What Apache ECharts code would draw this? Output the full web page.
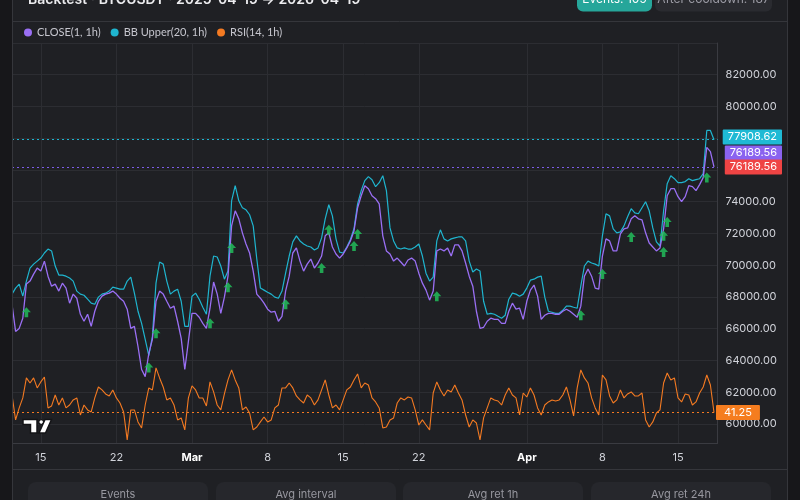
<!DOCTYPE html>
<html><head><meta charset="utf-8">
<script src="https://cdn.jsdelivr.net/npm/echarts@6/dist/echarts.min.js"></script>
<style>html,body{margin:0;padding:0;background:#17171a;}#c{width:800px;height:500px;}</style>
</head><body><div id="c"></div>
<script>
// ---- data (8-hour samples, starting 2026-02-12 08:00 UTC) ----
const startUTC = [2026, 1, 12, 8];
const stepHours = 8;

const closeValues = [
67540,65830,66020,66660,68810,69000,69440,69820,69630,70260,
69310,68680,68810,68370,68870,68560,67610,68180,67920,66910,
66470,66910,66150,67100,67730,68050,68180,68240,68370,68180,
67920,67730,67230,66020,66150,64880,63430,62980,64440,65330,
67730,68370,68180,67730,67290,67420,66470,65390,63430,65200,
66970,66970,66720,66340,66020,67290,68940,68180,66970,67990,
69310,72480,73430,72920,72040,71340,70770,69630,68180,67920,
67610,67230,67040,67100,66470,66780,68370,69310,70770,71090,
70260,69630,70070,70390,69820,70140,70580,71850,72040,71150,
70710,70450,70710,71090,71530,72160,73620,74380,75010,74820,
74380,74190,73870,71850,70900,70710,70260,70450,70200,69950,
70330,70450,70260,69500,68870,68430,67800,68370,70900,71020,
70900,71090,70580,71280,71280,70900,70140,69310,68680,67100,
66020,66090,66470,66660,66590,66590,66340,66340,67100,67610,
67230,67290,66590,67730,68430,68750,68050,66590,66850,66970,
66970,66910,66910,67100,67230,67100,66910,66720,67420,69310,
69760,69310,68560,68490,70580,71660,71530,70900,70900,71970,
72290,72350,72920,73110,72920,72860,72040,71400,71150,70900,
71090,72290,74380,74820,74820,74320,74000,74320,75010,74950,
74700,75080,75520,77420,77160,76189.56
];

const bbUpperValues = [
68180,68560,68810,68050,69000,69820,70070,70260,70450,70770,
71020,70900,69950,69380,69380,69310,69190,69000,68370,68180,
68110,67860,67610,67540,67990,68180,68240,68370,68620,68560,
68490,68490,69000,69250,68240,67100,66340,65330,64310,65520,
68870,70200,70070,69000,68180,68370,68490,67730,66150,66150,
68050,68240,67860,67350,66910,69310,70580,70520,69950,69120,
69630,74060,75010,74060,73620,73490,73180,72480,70390,68560,
68430,68300,68180,67990,67920,68370,69500,70580,71470,71850,
71530,71340,71210,71150,70960,71090,71720,72920,73810,73110,
71660,70830,70770,71150,71620,72300,73870,74700,75330,75580,
75390,74950,75200,75640,74700,72350,71530,71090,71020,71090,
71020,71020,71150,71340,70580,69500,69000,69250,71530,72230,
71660,71530,71660,71720,71780,71780,71530,70260,69570,69760,
69630,67730,66910,66970,66910,66780,66660,66850,67860,68240,
68180,68050,68180,68560,69060,69120,69250,69310,67990,67100,
67040,66970,66970,67160,67420,67420,67350,67290,68680,69950,
70260,70140,70070,69950,71850,73240,73110,72290,72040,72100,
72480,73050,73560,73300,73240,73620,74000,73430,72350,71470,
71210,73430,75140,75640,75450,75200,75200,75270,75450,75330,
75390,75450,75770,78490,78490,77908.62
];

const rsiValues = [
54.4,35.7,44.7,52.2,67.2,63.4,67.2,59.7,64.2,67.9,
44.7,46.2,54.4,46.9,52.2,44.7,46.9,50.7,52.2,39.4,
46.9,43.2,41.7,52.2,60.4,58.2,55.2,53.7,58.2,52.2,
48.4,41.7,20.7,43.2,43.2,34.2,29.7,46.9,59.7,58.2,
74.7,67.2,60.4,50.7,52.2,46.9,35.7,37.2,28.2,52.2,
61.2,58.2,52.2,52.2,46.2,64.2,56.7,46.9,43.2,55.2,
65.7,73.2,65.7,59.7,43.2,45.4,40.9,28.2,30.4,34.2,
37.9,34.2,35.7,44.7,46.9,59.7,59.7,63.4,59.7,53.7,
50.7,48.4,54.4,52.2,46.9,50.7,58.2,65.7,54.4,44.7,
46.9,43.2,50.7,58.2,60.4,65.7,70.2,59.7,63.4,61.9,
52.2,49.2,44.7,29.7,30.4,35.7,37.2,48.4,52.2,50.7,
52.9,52.2,43.2,31.9,35.7,31.9,28.2,55.9,64.2,58.2,
53.7,58.2,56.7,61.9,55.9,50.7,39.4,30.4,35.7,33.4,
20.7,37.2,44.7,52.2,50.7,49.9,46.9,54.4,59.7,54.4,
52.2,39.4,55.9,52.9,59.7,54.4,44.7,39.4,46.9,49.2,
50.7,49.9,50.7,54.4,60.4,50.7,38.7,59.7,73.2,67.2,
63.4,52.2,44.7,39.4,69.4,65.7,53.7,48.4,50.7,58.2,
52.2,55.2,56.7,53.7,53.7,55.9,35.7,30.4,34.2,40.9,
43.2,63.4,70.9,65.7,67.2,52.2,49.2,55.2,54.4,46.9,
49.2,55.9,60.4,69.4,61.9,41.25
];

// signal events (sample index, price)
const eventIndex = [4,38,40,55,60,61,76,86,88,95,96,118,158,164,172,181,181,182,193];
const eventPrice = [67040,63550,65710,66340,68620,71090,67540,69820,72230,71210,71970,68050,66850,69440,71780,70830,71850,72730,75520];

// time-axis tick labels
const tickDates = ['2026-02-15 00:00','2026-02-22 00:00','2026-03-01 00:00','2026-03-08 00:00','2026-03-15 00:00','2026-03-22 00:00','2026-04-01 00:00','2026-04-08 00:00','2026-04-15 00:00'];
const tickLabels = ['15','22','Mar','8','15','22','Apr','8','15'];
const monthLabels = ['Mar','Apr'];

const titleText = 'Backtest · BTCUSDT · 2025-04-19 → 2026-04-19';
const badgeLabels = ['Events: 109', 'After cooldown: 187'];
const cardLabels = ['Events', 'Avg interval', 'Avg ret 1h', 'Avg ret 24h'];
const seriesNames = ['CLOSE(1, 1h)', 'BB Upper(20, 1h)', 'RSI(14, 1h)'];

// ---- build ----
const pad2 = n => String(n).padStart(2, '0');
const startMs = Date.UTC(startUTC[0], startUTC[1], startUTC[2], startUTC[3]);
const categories = [];
for (let i = 0; i <= closeValues.length; i++) {
  const d = new Date(startMs + i * stepHours * 3600000);
  categories.push(d.getUTCFullYear() + '-' + pad2(d.getUTCMonth() + 1) + '-' + pad2(d.getUTCDate()) + ' ' + pad2(d.getUTCHours()) + ':00');
}
const tickMap = {};
tickDates.forEach((d, k) => { tickMap[d] = tickLabels[k]; });
const isTick = (idx, val) => tickMap[val !== undefined ? val : categories[idx]] !== undefined;

const C_CLOSE = '#9a6ff4', C_BB = '#1fb5cf', C_RSI = '#f47a22', C_RED = '#ef4444', C_GREEN = '#22c55e';
const FONT = 'Inter, "Noto Sans", sans-serif';
const GRID = { left: 12, right: 82.4, top: 43, bottom: 57 };

const chart = echarts.init(document.getElementById('c'), null, { renderer: 'canvas' });

const dotted = color => ({ type: [2, 3], width: 1, color: color });
const last = a => a[a.length - 1];

chart.setOption({
  animation: false,
  backgroundColor: '#1f2024',
  textStyle: { fontFamily: FONT },
  legend: {
    left: 24, top: 27, padding: 0, icon: 'circle', itemWidth: 8, itemHeight: 8, itemGap: 10,
    textStyle: { color: '#c6c6ce', fontSize: 11, fontFamily: 'Lato, Inter, sans-serif' },
    data: seriesNames
  },
  grid: GRID,
  xAxis: {
    type: 'category', boundaryGap: false, data: categories,
    axisLine: { show: true, lineStyle: { color: '#3a3b41', width: 1 } },
    axisTick: { show: false },
    axisLabel: {
      interval: (i, v) => isTick(i, v), margin: 9, color: '#d1d3da', fontSize: 11, fontFamily: FONT,
      formatter: v => { const l = tickMap[v]; if (l === undefined) return ''; return monthLabels.includes(l) ? '{m|' + l + '}' : l; },
      rich: { m: { fontWeight: 'bold', color: '#ffffff', fontSize: 11, fontFamily: FONT } }
    },
    splitLine: { show: true, interval: (i, v) => isTick(i, v), lineStyle: { color: '#2c2d32', width: 1 } }
  },
  yAxis: [{
    type: 'value', position: 'right', min: 58800, max: 84000, minInterval: 2000, maxInterval: 2000,
    axisLine: { show: true, lineStyle: { color: '#3a3b41', width: 1 } },
    axisTick: { show: false },
    axisLabel: { color: '#d1d3da', fontSize: 11, fontFamily: FONT, margin: 8, showMinLabel: false, showMaxLabel: false, formatter: v => v.toFixed(2) },
    splitLine: { show: true, lineStyle: { color: '#2c2d32', width: 1 } }
  }, {
    type: 'value', min: 18.4, max: 318.4, show: false, splitLine: { show: false }
  }],
  series: [{
    name: seriesNames[1], type: 'line', data: bbUpperValues, showSymbol: false, symbol: 'none', z: 3,
    lineStyle: { color: C_BB, width: 1.2 }, itemStyle: { color: C_BB },
    markLine: { silent: true, symbol: 'none', label: { show: false }, lineStyle: dotted(C_BB), data: [{ yAxis: last(bbUpperValues) }] }
  }, {
    name: seriesNames[0], type: 'line', data: closeValues, showSymbol: false, symbol: 'none', z: 4,
    lineStyle: { color: C_CLOSE, width: 1.3 }, itemStyle: { color: C_CLOSE },
    markLine: { silent: true, symbol: 'none', label: { show: false }, lineStyle: dotted('#7d5ce8'), data: [{ yAxis: last(closeValues) }] }
  }, {
    name: seriesNames[2], type: 'line', yAxisIndex: 1, data: rsiValues, showSymbol: false, symbol: 'none', z: 3,
    lineStyle: { color: C_RSI, width: 1.1 }, itemStyle: { color: C_RSI },
    markLine: { silent: true, symbol: 'none', label: { show: false }, lineStyle: dotted(C_RSI), data: [{ yAxis: last(rsiValues) }] }
  }, {
    name: 'events', type: 'scatter', z: 6,
    data: eventIndex.map((ix, k) => [ix, eventPrice[k]]),
    symbol: 'path://M5,0 L10,5.5 L7,5.5 L7,11 L3,11 L3,5.5 L0,5.5 Z', symbolSize: [9, 10],
    itemStyle: { color: C_GREEN }
  }]
});

// ---- decorations & price labels ----
const yClose = chart.convertToPixel({ yAxisIndex: 0 }, last(closeValues));
const yBB = chart.convertToPixel({ yAxisIndex: 0 }, last(bbUpperValues));
const yRsi = chart.convertToPixel({ yAxisIndex: 1 }, last(rsiValues));
const yPurple = yClose - 14;
const yTeal = Math.min(yBB, yPurple - 16);

const priceTag = (text, y, color, x, align, pad) => ({
  type: 'text', z: 120,
  style: { text: text, x: x, y: y, fill: '#ffffff', fontSize: 11, fontFamily: FONT, align: align, verticalAlign: 'middle',
    backgroundColor: color, padding: pad, lineHeight: 11, borderRadius: 1 }
});
const line = (x1, y1, x2, y2, c) => ({ type: 'line', z: 50, shape: { x1, y1, x2, y2 }, style: { stroke: c, lineWidth: 1 } });

const cardX = [28, 216, 403, 591];
const elements = [
  { type: 'rect', z: 40, shape: { x: 0, y: 0, width: 12, height: 500 }, style: { fill: '#17171a' } },
  { type: 'rect', z: 40, shape: { x: 788, y: 0, width: 12, height: 500 }, style: { fill: '#17171a' } },
  line(12.5, 0, 12.5, 500, '#35363b'),
  line(787.5, 0, 787.5, 500, '#35363b'),
  line(12, 21.5, 787, 21.5, '#35363b'),
  line(12, 469.5, 787, 469.5, '#35363b'),
  { type: 'text', z: 60, style: { text: titleText, x: 28, y: 0, fill: '#ececef', fontSize: 14, fontWeight: 600, fontFamily: FONT, verticalAlign: 'middle' } },
  { type: 'rect', z: 60, shape: { x: 577, y: -14, width: 75, height: 25.5, r: 6 }, style: { fill: '#26a69a' } },
  { type: 'text', z: 61, style: { text: badgeLabels[0], x: 614.5, y: -0.5, fill: '#ffffff', fontSize: 12, fontFamily: FONT, align: 'center', verticalAlign: 'middle' } },
  { type: 'rect', z: 60, shape: { x: 655, y: -14, width: 117, height: 25.5, r: 6 }, style: { fill: '#2a2b30' } },
  { type: 'text', z: 61, style: { text: badgeLabels[1], x: 713.5, y: -0.5, fill: '#9d9da6', fontSize: 12, fontFamily: FONT, align: 'center', verticalAlign: 'middle' } },
  // TradingView mark
  { type: 'polygon', z: 110, shape: { points: [[23, 419.5], [37, 419.5], [37, 433], [30.5, 433], [30.5, 424.5], [23, 424.5]] }, style: { fill: '#ffffff', stroke: '#141417', lineWidth: 1.5 } },
  { type: 'circle', z: 110, shape: { cx: 41.2, cy: 422, r: 2.4 }, style: { fill: '#ffffff', stroke: '#141417', lineWidth: 1.2 } },
  { type: 'polygon', z: 110, shape: { points: [[45, 419.5], [51.5, 419.5], [45.5, 433], [39, 433]] }, style: { fill: '#ffffff', stroke: '#141417', lineWidth: 1.5 } },
  priceTag(last(bbUpperValues).toFixed(2), yTeal, '#1fbad5', 782, 'right', [2, 5, 2, 5]),
  priceTag(last(closeValues).toFixed(2), yPurple, '#8a63f0', 782, 'right', [2, 5, 2, 5]),
  priceTag(last(closeValues).toFixed(2), yClose, C_RED, 782, 'right', [2, 5, 2, 5]),
  priceTag(last(rsiValues).toFixed(2), yRsi, '#f57d1f', 716, 'left', [2, 8, 2, 8])
];
cardLabels.forEach((t, k) => {
  elements.push({ type: 'rect', z: 60, shape: { x: cardX[k], y: 482, width: 180, height: 40, r: 8 }, style: { fill: '#26272c' } });
  elements.push({ type: 'text', z: 61, style: { text: t, x: cardX[k] + 90, y: 495, fill: '#97979f', fontSize: 11, fontFamily: FONT, align: 'center', verticalAlign: 'middle' } });
});
chart.setOption({ graphic: { elements: elements } });
</script>
</body></html>
